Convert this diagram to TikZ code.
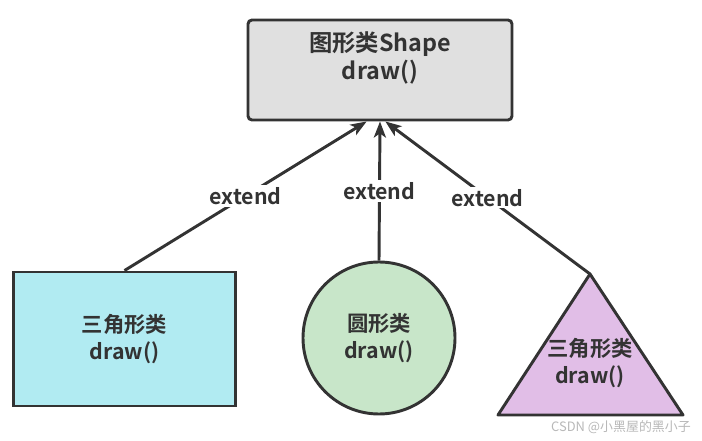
\documentclass[tikz,border=0pt]{standalone}
\usepackage{fontspec}
\setmainfont{Noto Sans CJK SC}[BoldFont={Noto Sans CJK SC Bold}]
\usepackage{xcolor}
\usepackage{tikz}
\usetikzlibrary{arrows.meta,positioning,shapes.geometric}
\definecolor{ShapeGray}{HTML}{E0E0E0}
\definecolor{RectCyan}{HTML}{B1EBF2}
\definecolor{CircGreen}{HTML}{C8E6C9}
\definecolor{TriPurple}{HTML}{E1BEE7}
\definecolor{LineDark}{HTML}{333333}
\definecolor{MarkGray}{HTML}{B8B8B8}
\tikzset{
  classbox/.style={draw=LineDark,line width=2.2pt,align=center,font=\bfseries\fontsize{16}{20.5}\selectfont,text=LineDark,inner sep=0pt},
  extendarrow/.style={-{Stealth[length=12pt,width=9pt,inset=3pt]},line width=2.2pt,draw=LineDark},
  extendlabel/.style={fill=white,inner sep=1.5pt,font=\bfseries\fontsize{16}{18}\selectfont,text=LineDark}
}

\begin{document}
\begin{tikzpicture}[x=0.75pt,y=-0.75pt]
\useasboundingbox (0,0) rectangle (702,441);
% parent class
\node[classbox,fill=ShapeGray,rounded corners=3pt,minimum width=198pt,minimum height=75pt] (shape) at (380,70) {};
\node[classbox,draw=none,font=\bfseries\fontsize{17.5}{20.5}\selectfont,below=9pt of shape.north] (shapetxt) {图形类Shape\\draw()};
% sub classes
\node[classbox,fill=RectCyan,minimum width=167pt,minimum height=100.5pt] (rect) at (124.5,339) {三角形类\\draw()};
\node[classbox,fill=CircGreen,circle,minimum size=114pt] (circ) at (379,338) {圆形类\\draw()};
\coordinate (triTop) at (590,274);
\coordinate (triLeft) at (498,415);
\coordinate (triRight) at (683,415);
\draw[draw=LineDark,fill=TriPurple,line width=2.2pt,line join=round] (triTop) -- (triLeft) -- (triRight) -- cycle;
\node[classbox,draw=none] (tri) at (590,363) {三角形类\\draw()};
% inheritance
\draw[extendarrow] (rect.north) -- node[extendlabel] (ext1) {extend} ([xshift=-10pt]shape.south);
\draw[extendarrow] (circ.north) -- node[extendlabel] (ext2) {extend} (shape.south);
\draw[extendarrow] (triTop) -- node[extendlabel] (ext3) {extend} ([xshift=4pt]shape.south);
% watermark
\node[text=MarkGray,font=\fontsize{9.7}{11}\selectfont,anchor=east,inner sep=0pt] (mark) at (691,427) {CSDN @小黑屋的黑小子};
\end{tikzpicture}
\end{document}
